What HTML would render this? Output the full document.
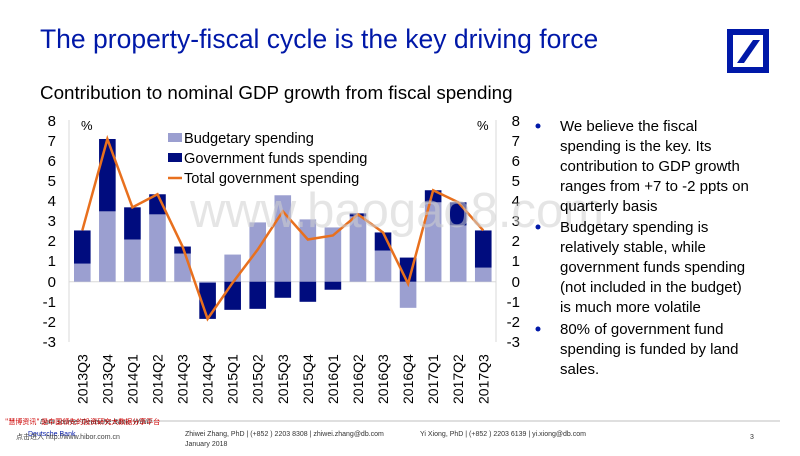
<!DOCTYPE html>
<html><head><meta charset="utf-8"><style>
body{margin:0;width:800px;height:451px;overflow:hidden;background:#fff;font-family:"Liberation Sans",Arial,sans-serif;}
</style></head><body>
<svg width="800" height="451" xmlns="http://www.w3.org/2000/svg" font-family="Liberation Sans, Arial, sans-serif">
<text x="40" y="48" font-size="26.5" fill="#0018a8">The property-fiscal cycle is the key driving force</text>
<rect x="730" y="32" width="36" height="38" fill="none" stroke="#0018a8" stroke-width="6"/>
<polygon points="737,63 744,63 760,40 753,40" fill="#0018a8"/>
<text x="40" y="99" font-size="18.8" fill="#000">Contribution to nominal GDP growth from fiscal spending</text>
<g stroke="#d8d8d8" stroke-width="1">
<line x1="69" y1="120" x2="69" y2="342"/><line x1="496" y1="120" x2="496" y2="342"/>
<line x1="69" y1="281.7" x2="496" y2="281.7"/>
</g>
<g font-size="15" fill="#000" text-anchor="end">
<text x="56" y="126">8</text><text x="56" y="146">7</text><text x="56" y="166">6</text><text x="56" y="186">5</text><text x="56" y="206">4</text><text x="56" y="226">3</text><text x="56" y="246">2</text><text x="56" y="266">1</text><text x="56" y="287">0</text><text x="56" y="307">-1</text><text x="56" y="327">-2</text><text x="56" y="347">-3</text>
<text x="520" y="126">8</text><text x="520" y="146">7</text><text x="520" y="166">6</text><text x="520" y="186">5</text><text x="520" y="206">4</text><text x="520" y="226">3</text><text x="520" y="246">2</text><text x="520" y="266">1</text><text x="520" y="287">0</text><text x="520" y="307">-1</text><text x="520" y="327">-2</text><text x="520" y="347">-3</text>
</g>
<text x="81" y="130" font-size="13">%</text><text x="477" y="130" font-size="13">%</text>
<g id="bars"></g>
<text x="190" y="227" font-size="49" fill="#d0d0d0" fill-opacity="0.55">www.baogao8.com</text>
<rect x="168" y="133" width="14" height="9" fill="#9b9fd0"/>
<text x="184" y="143" font-size="14.6">Budgetary spending</text>
<rect x="168" y="153" width="14" height="9" fill="#000c7e"/>
<text x="184" y="163" font-size="14.6">Government funds spending</text>
<line x1="168" y1="178" x2="182" y2="178" stroke="#e8701e" stroke-width="2.5"/>
<text x="184" y="183" font-size="14.6">Total government spending</text>
<g id="xl" font-size="14"></g>
<g font-size="15" fill="#000">
<circle cx="538" cy="126" r="2.5" fill="#0018a8"/>
<text x="560" y="131">We believe the fiscal</text><text x="560" y="151">spending is the key. Its</text><text x="560" y="171">contribution to GDP growth</text><text x="560" y="191">ranges from +7 to -2 ppts on</text><text x="560" y="211">quarterly basis</text>
<circle cx="538" cy="227" r="2.5" fill="#0018a8"/>
<text x="560" y="232">Budgetary spending is</text><text x="560" y="252">relatively stable, while</text><text x="560" y="272">government funds spending</text><text x="560" y="292">(not included in the budget)</text><text x="560" y="312">is much more volatile</text>
<circle cx="538" cy="329" r="2.5" fill="#0018a8"/>
<text x="560" y="334">80% of government fund</text><text x="560" y="354">spending is funded by land</text><text x="560" y="374">sales.</text>
</g>
<line x1="60" y1="421" x2="780" y2="421" stroke="#aaa" stroke-width="0.8"/>
<text x="40" y="424" font-size="7" font-style="italic" fill="#444">Data source: Deutsche Bank, WIND</text>
<text x="5" y="424" font-size="7" fill="#c00" font-family="Noto Sans CJK SC, sans-serif">"慧博资讯" 是中国领先的投资研究大数据分享平台</text>
<text x="28" y="436" font-size="7" fill="#0018a8">Deutsche Bank</text>
<text x="16" y="439" font-size="7" fill="#444" font-family="Liberation Sans, Noto Sans CJK SC, sans-serif">点击进入 http://www.hibor.com.cn</text>
<text x="185" y="436" font-size="7" fill="#333">Zhiwei Zhang, PhD | (+852 ) 2203 8308 | zhiwei.zhang@db.com</text>
<text x="185" y="446" font-size="7" fill="#333">January 2018</text>
<text x="420" y="436" font-size="7" fill="#333">Yi Xiong, PhD | (+852 ) 2203 6139 | yi.xiong@db.com</text>
<text x="750" y="439" font-size="7" fill="#333">3</text>
</svg>
<script>
var d=[["2013Q3",0.9,1.65],["2013Q4",3.5,3.6],["2014Q1",2.1,1.6],["2014Q2",3.35,1.0],["2014Q3",1.4,0.35],["2014Q4",-0.05,-1.8],["2015Q1",1.35,-1.4],["2015Q2",2.95,-1.35],["2015Q3",4.3,-0.8],["2015Q4",3.1,-1.0],["2016Q1",2.7,-0.4],["2016Q2",3.25,0.15],["2016Q3",1.55,0.9],["2016Q4",-1.3,1.2],["2017Q1",3.95,0.6],["2017Q2",2.8,1.15],["2017Q3",0.7,1.85]];
var tot=[2.55,7.1,3.7,4.35,1.75,-1.85,-0.05,1.6,3.5,2.1,2.3,3.35,2.45,-0.1,4.55,3.95,2.55];
function Y(v){return 281.7-20.1*v;}
var ns="http://www.w3.org/2000/svg",g=document.getElementById("bars"),xl=document.getElementById("xl");
function r(x,a,b,c){var e=document.createElementNS(ns,"rect");e.setAttribute("x",x-8.3);e.setAttribute("width",16.6);e.setAttribute("y",Math.min(Y(a),Y(b)));e.setAttribute("height",Math.abs(Y(a)-Y(b)));e.setAttribute("fill",c);g.appendChild(e);}
var pts=[];
d.forEach(function(q,i){var x=82.3+25.06*i,b=q[1],f=q[2];
r(x,0,b,"#9b9fd0");
if((b>=0&&f>=0)||(b<0&&f<0))r(x,b,b+f,"#000c7e");else r(x,0,f,"#000c7e");
pts.push(x+","+Y(tot[i]));
var t=document.createElementNS(ns,"text");t.setAttribute("transform","translate("+(x+5)+",404) rotate(-90)");t.textContent=q[0];xl.appendChild(t);});
var p=document.createElementNS(ns,"polyline");p.setAttribute("points",pts.join(" "));p.setAttribute("fill","none");p.setAttribute("stroke","#e8701e");p.setAttribute("stroke-width","2.5");g.appendChild(p);
</script>
</body></html>
